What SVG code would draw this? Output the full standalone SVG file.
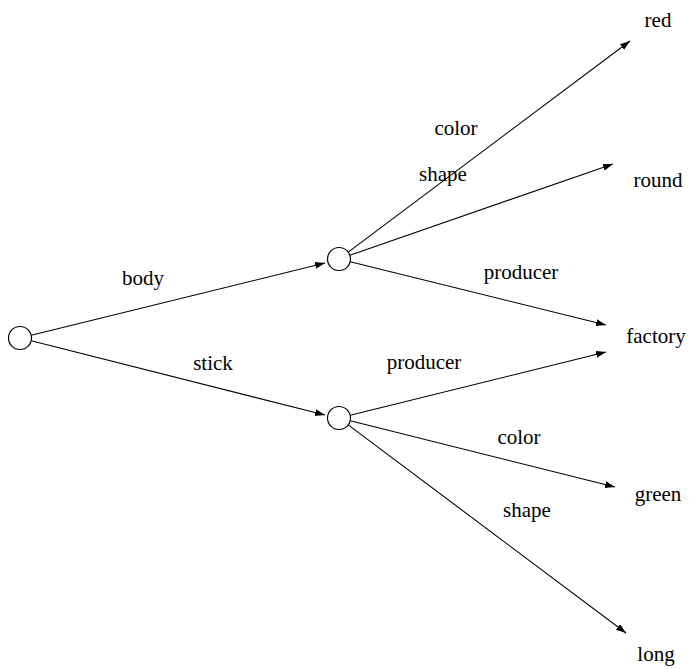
<svg xmlns="http://www.w3.org/2000/svg" width="696" height="669" viewBox="0 0 696 669">
<style>
text{font-family:'Liberation Serif','Times New Roman',Times,serif;font-size:21px;fill:#000;text-anchor:middle}
.n{fill:#fff;stroke:#000;stroke-width:1.2}
.e line{stroke:#000;stroke-width:1.1;fill:none;marker-end:url(#a)}
</style>
<defs>
<marker id="a" markerUnits="userSpaceOnUse" markerWidth="11" markerHeight="8" refX="10" refY="3.5" orient="auto">
<path d="M0,0 L10,3.5 L0,7 z" fill="#000"/>
</marker>
</defs>
<g id="connectors" class="e">
<line x1="31.2" y1="335.3" x2="325" y2="263"/>
<line x1="31.2" y1="340.8" x2="325" y2="415"/>
<line x1="348.2" y1="252.1" x2="630" y2="41"/>
<line x1="349.9" y1="255.2" x2="613" y2="164"/>
<line x1="350.2" y1="261.8" x2="606" y2="325"/>
<line x1="350.2" y1="415.2" x2="606" y2="352"/>
<line x1="350.2" y1="420.8" x2="615" y2="487"/>
<line x1="348.2" y1="424.9" x2="626" y2="633"/>
</g>
<g id="edge-labels" font-family="Liberation Serif, serif">
<text x="143" y="285">body</text>
<text x="213" y="370">stick</text>
<text x="456" y="135">color</text>
<text x="443" y="181">shape</text>
<text x="521" y="279">producer</text>
<text x="424" y="369">producer</text>
<text x="519" y="444">color</text>
<text x="527" y="517">shape</text>
</g>
<g id="root"><circle class="n" cx="20" cy="338" r="11.5"/></g>
<g id="body"><circle class="n" cx="339" cy="259" r="11.5"/></g>
<g id="stick"><circle class="n" cx="339" cy="418" r="11.5"/></g>
<g id="red"><text x="658" y="27">red</text></g>
<g id="round"><text x="658" y="187">round</text></g>
<g id="factory"><text x="656" y="343">factory</text></g>
<g id="green"><text x="658" y="501">green</text></g>
<g id="long"><text x="656" y="661">long</text></g>
</svg>
